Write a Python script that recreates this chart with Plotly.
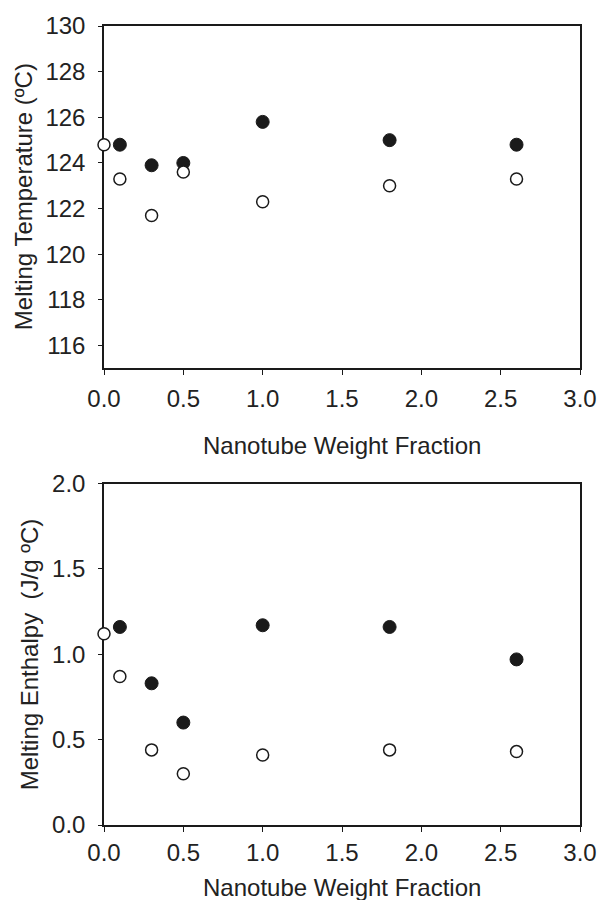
import plotly.graph_objects as go

# Data
fraction = [0.0, 0.1, 0.3, 0.5, 1.0, 1.8, 2.6]
fraction_filled = [0.1, 0.3, 0.5, 1.0, 1.8, 2.6]
temp_open = [124.8, 123.3, 121.7, 123.6, 122.3, 123.0, 123.3]
temp_filled = [124.8, 123.9, 124.0, 125.8, 125.0, 124.8]
enth_open = [1.12, 0.87, 0.44, 0.30, 0.41, 0.44, 0.43]
enth_filled = [1.16, 0.83, 0.60, 1.17, 1.16, 0.97]

x_ticks = [0.0, 0.5, 1.0, 1.5, 2.0, 2.5, 3.0]
temp_ticks = [116, 118, 120, 122, 124, 126, 128, 130]
enth_ticks = [0.0, 0.5, 1.0, 1.5, 2.0]

x_title = "Nanotube Weight Fraction"
temp_title = "Melting Temperature (ºC)"
enth_title = "Melting Enthalpy &nbsp;(J/g ºC)"

INK = "#1a1a1a"
FONT = dict(family="Liberation Sans, Arial, sans-serif", size=24, color="#222222")

W, H = 609, 900
ml, mr, mt, mb = 104, 20, 20, 75
ph = H - mt - mb
top_dom = [(825 - 365) / ph, 1.0]
bot_dom = [0.0, (825 - 481) / ph]

fig = go.Figure()

open_marker = dict(symbol="circle", size=12, color="white", line=dict(color=INK, width=1.5))
filled_marker = dict(symbol="circle", size=13, color=INK, line=dict(color=INK, width=1))

fig.add_trace(go.Scatter(x=fraction_filled, y=temp_filled, mode="markers", marker=filled_marker,
                         xaxis="x", yaxis="y", cliponaxis=False, showlegend=False))
fig.add_trace(go.Scatter(x=fraction, y=temp_open, mode="markers", marker=open_marker,
                         xaxis="x", yaxis="y", cliponaxis=False, showlegend=False))
fig.add_trace(go.Scatter(x=fraction_filled, y=enth_filled, mode="markers", marker=filled_marker,
                         xaxis="x2", yaxis="y2", cliponaxis=False, showlegend=False))
fig.add_trace(go.Scatter(x=fraction, y=enth_open, mode="markers", marker=open_marker,
                         xaxis="x2", yaxis="y2", cliponaxis=False, showlegend=False))

axis_common = dict(showline=True, linecolor=INK, linewidth=1.5, mirror=True, showgrid=False,
                   zeroline=False, ticks="outside", tickcolor=INK, tickwidth=1.2,
                   tickfont=FONT, layer="below traces")

fig.update_layout(
    width=W, height=H,
    margin=dict(l=ml, r=mr, t=mt, b=mb),
    paper_bgcolor="white", plot_bgcolor="white",
    font=FONT,
    xaxis=dict(axis_common, domain=[0, 1], anchor="y", range=[0, 3], tickvals=x_ticks,
               tickformat=".1f", ticklen=5, ticklabelstandoff=3),
    yaxis=dict(axis_common, domain=top_dom, anchor="x", range=[115, 130], tickvals=temp_ticks,
               ticklen=4, ticklabelstandoff=8),
    xaxis2=dict(axis_common, domain=[0, 1], anchor="y2", range=[0, 3], tickvals=x_ticks,
                tickformat=".1f", ticklen=5, ticklabelstandoff=0),
    yaxis2=dict(axis_common, domain=bot_dom, anchor="x2", range=[0, 2], tickvals=enth_ticks,
                tickformat=".1f", ticklen=4, ticklabelstandoff=8),
)

ann = dict(showarrow=False, font=FONT)
fig.add_annotation(ann, text=x_title, xref="x domain", yref="y domain", x=0.5, y=0,
                   yshift=-77, xanchor="center", yanchor="middle")
fig.add_annotation(ann, text=x_title, xref="x2 domain", yref="y2 domain", x=0.5, y=0,
                   yshift=-62, xanchor="center", yanchor="middle")
fig.add_annotation(ann, text=temp_title, xref="x domain", yref="y domain", x=0, y=0.5,
                   xshift=-81, textangle=-90, xanchor="center", yanchor="middle")
fig.add_annotation(ann, text=enth_title, xref="x2 domain", yref="y2 domain", x=0, y=0.5,
                   xshift=-75, textangle=-90, xanchor="center", yanchor="middle")

fig.write_html("out.html")
